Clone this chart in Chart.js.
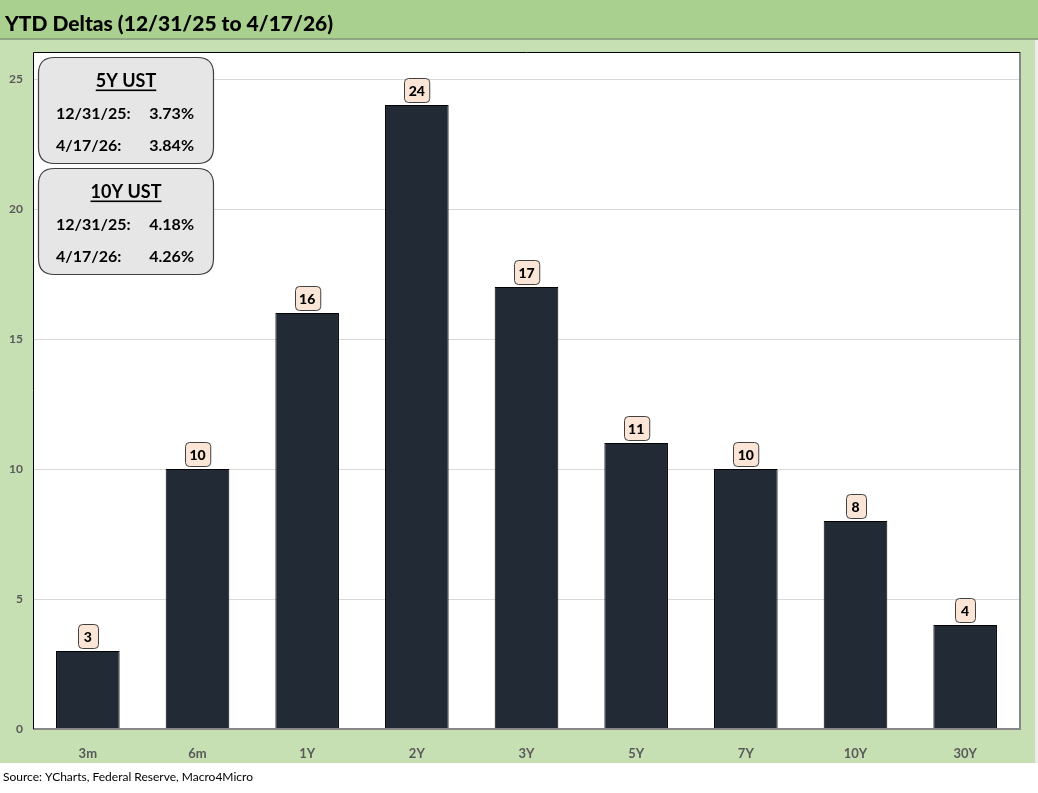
<!DOCTYPE html>
<html><head><meta charset="utf-8">
<script src="https://cdn.jsdelivr.net/npm/chart.js@4.4.1/dist/chart.umd.min.js"></script>
<style>html,body{margin:0;padding:0;background:#fff;overflow:hidden}#wrap{position:absolute;left:0;top:0;width:1038px;height:793px}</style>
</head><body><div id="wrap"><canvas id="c" width="1038" height="793"></canvas></div>
<script>
const categories = ["3m","6m","1Y","2Y","3Y","5Y","7Y","10Y","30Y"];
const deltas = [3,10,16,24,17,11,10,8,4];
const yTicks = [0,5,10,15,20,25];
const titleText = "YTD Deltas (12/31/25 to 4/17/26)";
const sourceText = "Source: YCharts, Federal Reserve, Macro4Micro";
const infoBoxes = [
  {head:"5Y UST", rows:[["12/31/25:","3.73%"],["4/17/26:","3.84%"]]},
  {head:"10Y UST", rows:[["12/31/25:","4.18%"],["4/17/26:","4.26%"]]}
];
const FONT = "Lato, 'Open Sans', sans-serif";

function rr(ctx,x,y,w,h,r){ctx.beginPath();ctx.moveTo(x+r,y);ctx.lineTo(x+w-r,y);ctx.quadraticCurveTo(x+w,y,x+w,y+r);ctx.lineTo(x+w,y+h-r);ctx.quadraticCurveTo(x+w,y+h,x+w-r,y+h);ctx.lineTo(x+r,y+h);ctx.quadraticCurveTo(x,y+h,x,y+h-r);ctx.lineTo(x,y+r);ctx.quadraticCurveTo(x,y,x+r,y);ctx.closePath();}

const bg = {
  id:'bg',
  beforeDraw(chart){
    const ctx=chart.ctx, a=chart.chartArea;
    ctx.save();
    ctx.fillStyle='#ffffff';ctx.fillRect(0,0,1038,793);
    ctx.fillStyle='#c6e0b4';ctx.fillRect(0,39,1035,724);
    ctx.fillStyle='#a9d08e';ctx.fillRect(0,0,1038,39);
    ctx.fillStyle='#8fa584';ctx.fillRect(0,38,1038,2);
    ctx.fillStyle='#ececec';ctx.fillRect(1035,40,3,723);
    ctx.fillStyle='#000';ctx.font="900 21px "+FONT;ctx.textBaseline='alphabetic';ctx.textAlign='left';
    ctx.fillText(titleText,5,31);
    ctx.fillStyle='#ffffff';ctx.fillRect(a.left,a.top,a.right-a.left,a.bottom-a.top);
    ctx.fillStyle='#000';ctx.font="12px "+FONT;
    ctx.fillText(sourceText,3,781);
    ctx.restore();
  },
  afterDatasetsDraw(chart){
    const ctx=chart.ctx, a=chart.chartArea;
    ctx.save();
    ctx.strokeStyle='#888';ctx.lineWidth=2;
    ctx.beginPath();ctx.moveTo(a.right,a.top);ctx.lineTo(a.right,a.bottom);ctx.lineTo(a.left,a.bottom);ctx.stroke();
    ctx.strokeStyle='#000';ctx.lineWidth=1;
    ctx.beginPath();ctx.moveTo(a.left+0.5,a.bottom);ctx.lineTo(a.left+0.5,a.top+0.5);ctx.lineTo(a.right,a.top+0.5);ctx.stroke();
    const meta=chart.getDatasetMeta(0);
    meta.data.forEach((bar,i)=>{
      const txt=String(deltas[i]);
      ctx.font="900 14px "+FONT;
      const tw=ctx.measureText(txt).width;
      const w=Math.max(tw+9,20), h=24;
      const x=Math.round(bar.x-w/2)+0.5, y=Math.round(bar.y-3-h)+0.5;
      rr(ctx,x,y,w,h,4);
      ctx.fillStyle='#fbe5d6';ctx.fill();
      ctx.strokeStyle='#404040';ctx.lineWidth=1;ctx.stroke();
      ctx.fillStyle='#000';ctx.textAlign='center';ctx.textBaseline='middle';
      ctx.fillText(txt,bar.x,y+h/2+1);
    });
    infoBoxes.forEach((b,k)=>{
      const x=38.5,y=57.5+k*111,w=175,h=106;
      rr(ctx,x,y,w,h,16);
      ctx.fillStyle='#e7e6e6';ctx.fill();
      ctx.strokeStyle='#404040';ctx.lineWidth=1.2;ctx.stroke();
      ctx.fillStyle='#000';ctx.textBaseline='alphabetic';
      ctx.font="bold 18px "+FONT;ctx.textAlign='center';
      ctx.fillText(b.head,126,y+29);
      const hw=ctx.measureText(b.head).width;
      ctx.fillRect(126-hw/2,y+32,hw,1.6);
      ctx.font="bold 16px "+FONT;
      b.rows.forEach((r,j)=>{
        const yy=y+61+j*32;
        ctx.textAlign='left';ctx.fillText(r[0],56,yy);
        ctx.textAlign='right';ctx.fillText(r[1],194,yy);
      });
    });
    ctx.restore();
  }
};

new Chart(document.getElementById('c'),{
  type:'bar',
  data:{labels:categories,datasets:[{data:deltas,backgroundColor:'#222a35',borderColor:'#000000',borderWidth:1,barPercentage:0.58,categoryPercentage:1}]},
  options:{
    responsive:false,animation:false,devicePixelRatio:1,
    layout:{padding:{top:52,right:18,left:0,bottom:30}},
    plugins:{legend:{display:false},tooltip:{enabled:false},title:{display:false}},
    scales:{
      x:{grid:{display:false},border:{display:false},
         ticks:{color:'#595959',font:{family:FONT,size:13,weight:'bold'},padding:9},
         afterFit(s){s.height=34;}},
      y:{min:0,max:26.04,
         afterBuildTicks(s){s.ticks=yTicks.map(v=>({value:v}));},
         grid:{color:'#d9d9d9',lineWidth:1,drawTicks:false},border:{display:false},
         ticks:{color:'#595959',font:{family:FONT,size:12,weight:'bold'},padding:10},
         afterFit(s){s.width=33;}}
    }
  },
  plugins:[bg]
});
</script></body></html>
